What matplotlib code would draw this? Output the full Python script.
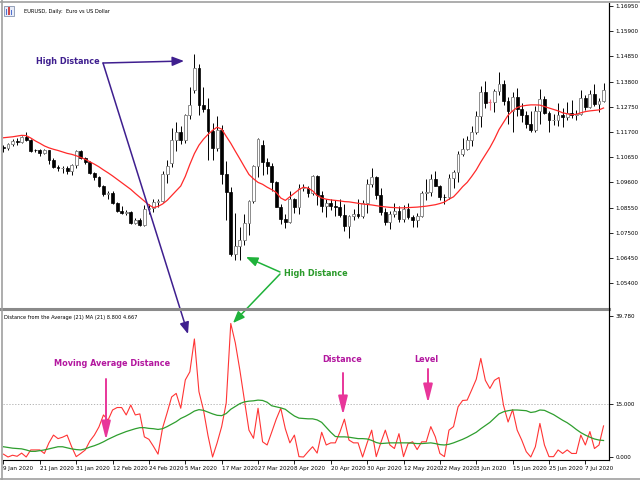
import matplotlib
matplotlib.use("Agg")
import matplotlib.pyplot as plt
from matplotlib import font_manager
from matplotlib.patches import Rectangle, FancyArrowPatch
from matplotlib.lines import Line2D
import numpy as np

# time axis labels, one every 8 daily bars starting at the first bar
date_labels = ["9 Jan 2020", "21 Jan 2020", "31 Jan 2020", "12 Feb 2020", "24 Feb 2020",
               "5 Mar 2020", "17 Mar 2020", "27 Mar 2020", "8 Apr 2020", "20 Apr 2020",
               "30 Apr 2020", "12 May 2020", "22 May 2020", "3 Jun 2020", "15 Jun 2020",
               "25 Jun 2020", "7 Jul 2020"]
label_step = 8

# EURUSD daily candles (9 Jan 2020 .. 13 Jul 2020)
opens = [1.1106, 1.1104, 1.1121, 1.1134, 1.1127, 1.1150, 1.1137, 1.1096, 1.1093, 1.1083,
         1.1093, 1.1053, 1.1025, 1.1019, 1.1020, 1.1009, 1.1031, 1.1092, 1.1061, 1.1044,
         1.0999, 1.0981, 1.0944, 1.0911, 1.0915, 1.0873, 1.0840, 1.0832, 1.0836, 1.0792,
         1.0803, 1.0782, 1.0848, 1.0853, 1.0880, 1.0884, 1.0996, 1.1040, 1.1138, 1.1172,
         1.1136, 1.1239, 1.1345, 1.1438, 1.1284, 1.1267, 1.1175, 1.1105, 1.1180, 1.0993,
         1.0918, 1.0662, 1.0693, 1.0722, 1.0792, 1.0883, 1.1029, 1.1115, 1.1043, 1.1030,
         1.0962, 1.0857, 1.0808, 1.0795, 1.0891, 1.0856, 1.0935, 1.0937, 1.0915, 1.0985,
         1.0907, 1.0862, 1.0875, 1.0863, 1.0856, 1.0823, 1.0780, 1.0820, 1.0828, 1.0822,
         1.0875, 1.0955, 1.0982, 1.0906, 1.0838, 1.0796, 1.0830, 1.0840, 1.0807, 1.0848,
         1.0816, 1.0804, 1.0819, 1.0915, 1.0922, 1.0976, 1.0946, 1.0900, 1.0899, 1.0979,
         1.1005, 1.1077, 1.1098, 1.1135, 1.1171, 1.1235, 1.1337, 1.1293, 1.1293, 1.1342,
         1.1372, 1.1301, 1.1257, 1.1316, 1.1264, 1.1242, 1.1204, 1.1177, 1.1256, 1.1308,
         1.1250, 1.1219, 1.1221, 1.1240, 1.1233, 1.1251, 1.1240, 1.1245, 1.1310, 1.1275,
         1.1329, 1.1287, 1.1298]
highs = [1.1117, 1.1124, 1.1140, 1.1144, 1.1155, 1.1172, 1.1140, 1.1100, 1.1099, 1.1098,
         1.1097, 1.1063, 1.1033, 1.1030, 1.1030, 1.1035, 1.1096, 1.1096, 1.1065, 1.1050,
         1.1003, 1.0986, 1.0951, 1.0925, 1.0925, 1.0880, 1.0862, 1.0845, 1.0841, 1.0813,
         1.0810, 1.0864, 1.0870, 1.0891, 1.0892, 1.1006, 1.1053, 1.1185, 1.1213, 1.1193,
         1.1245, 1.1356, 1.1495, 1.1454, 1.1357, 1.1310, 1.1206, 1.1237, 1.1198, 1.1050,
         1.0940, 1.0831, 1.0775, 1.0829, 1.0888, 1.1034, 1.1147, 1.1137, 1.1060, 1.1040,
         1.0967, 1.0870, 1.0830, 1.0925, 1.0893, 1.0952, 1.0952, 1.0947, 1.0990, 1.0990,
         1.0924, 1.0890, 1.0890, 1.0887, 1.0889, 1.0870, 1.0826, 1.0849, 1.0890, 1.0885,
         1.0973, 1.1019, 1.0985, 1.0935, 1.0852, 1.0840, 1.0876, 1.0860, 1.0867, 1.0875,
         1.0823, 1.0831, 1.0926, 1.0976, 1.0996, 1.1008, 1.0950, 1.0910, 1.0996, 1.1010,
         1.1090, 1.1146, 1.1155, 1.1197, 1.1257, 1.1362, 1.1384, 1.1308, 1.1350, 1.1422,
         1.1387, 1.1317, 1.1336, 1.1353, 1.1290, 1.1256, 1.1256, 1.1277, 1.1349, 1.1321,
         1.1256, 1.1247, 1.1290, 1.1268, 1.1293, 1.1303, 1.1261, 1.1346, 1.1323, 1.1344,
         1.1371, 1.1310, 1.1375]
lows = [1.1085, 1.1094, 1.1110, 1.1117, 1.1124, 1.1131, 1.1087, 1.1087, 1.1071, 1.1077,
        1.1036, 1.1019, 1.1008, 1.0998, 1.0993, 1.0992, 1.1022, 1.1057, 1.1038, 1.0993,
        1.0969, 1.0940, 1.0904, 1.0891, 1.0869, 1.0838, 1.0829, 1.0826, 1.0786, 1.0786,
        1.0778, 1.0779, 1.0829, 1.0837, 1.0857, 1.0878, 1.0958, 1.1024, 1.1092, 1.1120,
        1.1125, 1.1223, 1.1333, 1.1241, 1.1252, 1.1055, 1.1054, 1.1092, 1.0953, 1.0803,
        1.0654, 1.0636, 1.0636, 1.0700, 1.0740, 1.0873, 1.0983, 1.0992, 1.0995, 1.0925,
        1.0856, 1.0788, 1.0768, 1.0790, 1.0832, 1.0830, 1.0925, 1.0898, 1.0906, 1.0865,
        1.0838, 1.0814, 1.0845, 1.0818, 1.0815, 1.0757, 1.0727, 1.0803, 1.0812, 1.0812,
        1.0834, 1.0939, 1.0890, 1.0826, 1.0783, 1.0767, 1.0815, 1.0796, 1.0793, 1.0808,
        1.0775, 1.0774, 1.0815, 1.0886, 1.0903, 1.0945, 1.0886, 1.0872, 1.0890, 1.0935,
        1.0960, 1.1068, 1.1093, 1.1110, 1.1162, 1.1192, 1.1270, 1.1260, 1.1253, 1.1325,
        1.1284, 1.1202, 1.1168, 1.1236, 1.1211, 1.1185, 1.1168, 1.1172, 1.1202, 1.1243,
        1.1168, 1.1198, 1.1196, 1.1191, 1.1219, 1.1228, 1.1222, 1.1240, 1.1263, 1.1269,
        1.1278, 1.1254, 1.1293]
closes = [1.1104, 1.1121, 1.1134, 1.1127, 1.1150, 1.1137, 1.1092, 1.1093, 1.1083, 1.1093,
          1.1053, 1.1025, 1.1019, 1.1020, 1.1009, 1.1031, 1.1092, 1.1061, 1.1044, 1.0999,
          1.0981, 1.0944, 1.0911, 1.0915, 1.0873, 1.0840, 1.0832, 1.0836, 1.0792, 1.0803,
          1.0782, 1.0848, 1.0853, 1.0880, 1.0884, 1.0996, 1.1027, 1.1138, 1.1172, 1.1136,
          1.1239, 1.1284, 1.1438, 1.1284, 1.1267, 1.1175, 1.1105, 1.1180, 1.0993, 1.0918,
          1.0662, 1.0693, 1.0722, 1.0792, 1.0883, 1.1029, 1.1141, 1.1043, 1.1030, 1.0962,
          1.0857, 1.0808, 1.0795, 1.0891, 1.0856, 1.0935, 1.0937, 1.0915, 1.0985, 1.0907,
          1.0862, 1.0875, 1.0863, 1.0856, 1.0823, 1.0780, 1.0820, 1.0828, 1.0822, 1.0875,
          1.0955, 1.0982, 1.0906, 1.0838, 1.0796, 1.0830, 1.0840, 1.0807, 1.0848, 1.0816,
          1.0804, 1.0819, 1.0915, 1.0922, 1.0976, 1.0946, 1.0900, 1.0899, 1.0979, 1.1005,
          1.1077, 1.1098, 1.1135, 1.1171, 1.1235, 1.1337, 1.1292, 1.1293, 1.1342, 1.1372,
          1.1301, 1.1257, 1.1316, 1.1264, 1.1242, 1.1204, 1.1177, 1.1256, 1.1308, 1.1250,
          1.1219, 1.1221, 1.1240, 1.1233, 1.1251, 1.1240, 1.1245, 1.1310, 1.1275, 1.1329,
          1.1287, 1.1298, 1.1343]

# MA(21) drawn over the price
ma_price = [1.1146, 1.1148, 1.1150, 1.1153, 1.1156, 1.1155, 1.1145, 1.1133, 1.1123, 1.1112,
            1.1104, 1.1098, 1.1093, 1.1087, 1.1081, 1.1077, 1.1071, 1.1064, 1.1056, 1.1046,
            1.1036, 1.1025, 1.1012, 1.1000, 1.0987, 1.0973, 1.0959, 1.0945, 1.0931, 1.0914,
            1.0898, 1.0882, 1.0866, 1.0855, 1.0860, 1.0870, 1.0885, 1.0905, 1.0925, 1.0945,
            1.0985, 1.1035, 1.1080, 1.1115, 1.1140, 1.1160, 1.1177, 1.1190, 1.1182, 1.1152,
            1.1123, 1.1090, 1.1058, 1.1025, 1.0993, 1.0975, 1.0960, 1.0952, 1.0940, 1.0930,
            1.0918, 1.0895, 1.0885, 1.0900, 1.0915, 1.0930, 1.0940, 1.0936, 1.0925, 1.0905,
            1.0895, 1.0890, 1.0887, 1.0885, 1.0883, 1.0880, 1.0879, 1.0876, 1.0873, 1.0870,
            1.0868, 1.0866, 1.0863, 1.0860, 1.0858, 1.0856, 1.0855, 1.0854, 1.0854, 1.0855,
            1.0856, 1.0857, 1.0859, 1.0861, 1.0864, 1.0867, 1.0872, 1.0878, 1.0890, 1.0900,
            1.0920, 1.0942, 1.0960, 1.0985, 1.1012, 1.1045, 1.1075, 1.1105, 1.1140, 1.1180,
            1.1210, 1.1240, 1.1258, 1.1272, 1.1278, 1.1281, 1.1283, 1.1283, 1.1282, 1.1276,
            1.1270, 1.1264, 1.1258, 1.1250, 1.1246, 1.1242, 1.1244, 1.1250, 1.1255, 1.1258,
            1.1260, 1.1262, 1.1270]

# lower window: distance from the average and its MA(21)
distance = [0.8, 0.0, 0.5, 0.2, 1.1, 0.0, 2.0, 2.0, 2.0, 1.0,
            4.0, 6.2, 5.2, 5.6, 6.2, 2.9, 0.1, 1.0, 2.0, 4.5,
            6.2, 8.5, 11.9, 10.4, 13.3, 14.0, 14.0, 11.9, 14.7, 11.9,
            12.2, 5.7, 5.0, 3.0, 0.8, 8.2, 12.5, 17.0, 18.0, 13.8,
            21.8, 24.1, 33.4, 18.5, 13.3, 6.0, 0.0, 4.0, 8.6, 15.3,
            37.8, 32.3, 24.6, 16.0, 7.6, 5.3, 13.8, 4.3, 3.4, 7.0,
            10.7, 13.8, 8.0, 4.0, 6.2, 0.1, 0.0, 1.5, 2.9, 1.1,
            7.0, 3.4, 4.0, 4.0, 7.0, 10.7, 4.8, 4.0, 4.0, 0.0,
            4.0, 7.6, 0.1, 4.0, 7.6, 3.4, 2.4, 6.6, 0.1, 3.8,
            4.3, 2.1, 4.3, 4.3, 8.6, 5.7, 1.0, 0.1, 7.6, 8.6,
            14.2, 16.0, 16.1, 19.0, 22.0, 27.9, 21.7, 19.4, 21.7, 22.5,
            14.6, 9.9, 13.4, 7.6, 4.8, 1.5, 0.0, 2.9, 9.5, 3.4,
            0.1, 0.1, 2.0, 1.0, 2.0, 1.0, 1.0, 6.2, 3.4, 7.2,
            2.4, 3.4, 8.8]
distance_ma = [2.9, 2.7, 2.5, 2.4, 2.3, 2.0, 1.6, 1.6, 1.8, 2.0,
               2.3, 2.6, 2.9, 2.9, 2.6, 2.3, 2.1, 2.0, 2.3, 2.8,
               3.2, 3.7, 4.3, 5.0, 5.6, 6.2, 6.7, 7.2, 7.6, 8.0,
               8.3, 8.3, 8.1, 8.0, 7.8, 8.0, 8.6, 9.3, 10.0, 10.9,
               11.5, 12.2, 13.0, 13.4, 13.2, 12.7, 12.2, 11.8, 11.7, 12.3,
               13.5, 14.3, 15.1, 15.6, 15.8, 15.9, 16.1, 16.0, 15.5, 14.5,
               14.2, 13.9, 13.5, 12.5, 11.6, 11.0, 10.9, 10.8, 10.8, 10.5,
               9.8, 8.4, 7.0, 5.8, 5.7, 5.7, 5.6, 5.4, 5.2, 5.2,
               5.1, 4.7, 4.1, 3.8, 3.9, 4.0, 4.0, 4.0, 4.0, 4.0,
               3.9, 3.8, 3.8, 3.9, 4.0, 3.8, 3.5, 3.4, 3.6, 4.0,
               4.5, 5.0, 5.6, 6.3, 7.0, 8.0, 8.9, 9.8, 11.0, 12.2,
               12.8, 13.1, 13.3, 13.3, 13.2, 13.1, 12.6, 12.8, 13.3, 13.2,
               12.6, 12.0, 11.2, 10.4, 9.7, 8.8, 7.8, 6.9, 6.2, 5.6,
               5.1, 4.8, 4.667]

price_ticks = [1.16950, 1.15900, 1.14850, 1.13800, 1.12750, 1.11700,
               1.10650, 1.09600, 1.08550, 1.07500, 1.06450, 1.05400]
dist_ticks = [0.0, 15.0, 39.78]
level = 15.0

W, H = 640, 480


# MT4 uses a narrow little font; take a condensed face if one is installed
def pick_font():
    fonts = font_manager.fontManager.ttflist
    if any(f.name == 'Liberation Sans Narrow' for f in fonts):
        return 'Liberation Sans Narrow', 'normal', 1.05
    if any(f.name == 'DejaVu Sans' and f.stretch == 'condensed' for f in fonts):
        return 'DejaVu Sans', 'condensed', 1.0
    return 'DejaVu Sans', 'normal', 0.84


fam, stretch, k = pick_font()
plt.rcParams['font.family'] = [fam, 'DejaVu Sans']
plt.rcParams['font.stretch'] = stretch
axis_size = 4.5 * k
title_size = 4.1 * k


def box(x0, y0, x1, y1):
    # pixel box (top-left origin) -> figure fraction rect
    return [x0 / W, 1 - y1 / H, (x1 - x0) / W, (y1 - y0) / H]


def fp(x, y):
    return (x / W, 1 - y / H)


fig = plt.figure(figsize=(6.4, 4.8), dpi=100)
fig.patch.set_facecolor('white')

ax1 = fig.add_axes(box(3, 3, 609, 307))
ax2 = fig.add_axes(box(3, 310, 609, 460))

idx = np.arange(len(closes))
o = np.array(opens)
h = np.array(highs)
l = np.array(lows)
c = np.array(closes)
up = c > o
down = c < o
flat = c == o

# candles
ax1.vlines(idx[~flat], l[~flat], h[~flat], color='black', lw=0.7, zorder=2)
ax1.bar(idx[up], (c - o)[up], bottom=o[up], width=0.62, facecolor='white',
        edgecolor='#8c8c8c', lw=0.7, zorder=3)
ax1.bar(idx[down], (c - o)[down], bottom=o[down], width=0.62, facecolor='black',
        edgecolor='black', lw=0.5, zorder=3)
ax1.vlines(idx[flat], l[flat], h[flat], color='#f07080', lw=0.8, zorder=3)
ax1.hlines(c[flat], idx[flat] - 0.35, idx[flat] + 0.35, color='#f07080', lw=0.8, zorder=3)
ax1.plot(idx, ma_price, color='#ff2a2a', lw=0.9, zorder=4)

ax1.set_xlim(-0.1, len(closes) + 0.2)
ax1.set_ylim(1.04408, 1.17075)
ax1.set_xticks([])
ax1.yaxis.tick_right()
ax1.set_yticks(price_ticks)
ax1.set_yticklabels(['%.5f' % p for p in price_ticks])

# lower window
ax2.plot(idx, distance, color='#ff3434', lw=0.8, zorder=3)
ax2.plot(idx, distance_ma, color='#2e9e2e', lw=0.9, zorder=4)
ax2.axhline(level, color='#a8a8a8', lw=0.6, ls=(0, (1.5, 2)), zorder=1)
ax2.set_xlim(-0.1, len(closes) + 0.2)
ax2.set_ylim(-0.85, 41.6)
ax2.yaxis.tick_right()
ax2.set_yticks(dist_ticks)
ax2.set_yticklabels(['%.3f' % v for v in dist_ticks])
ax2.set_xticks(np.arange(len(date_labels)) * label_step)
ax2.set_xticklabels(date_labels, ha='left')

for ax in (ax1, ax2):
    for s in ('left', 'top', 'bottom'):
        ax.spines[s].set_visible(False)
    ax.spines['right'].set_color('black')
    ax.spines['right'].set_linewidth(0.8)
    ax.tick_params(axis='y', length=3, width=0.6, pad=1.5, labelsize=axis_size, direction='out')
ax2.spines['bottom'].set_visible(True)
ax2.spines['bottom'].set_linewidth(0.8)
ax2.tick_params(axis='x', length=3, width=0.6, pad=1.5, labelsize=axis_size, direction='out')

# window frame and separator
gray = '#a0a0a0'
fig.add_artist(Line2D([0, 609 / W], [1 - 308.5 / H] * 2, color='#8a8a8a', lw=2.2))
fig.add_artist(Line2D([0, 1], [1 - 1.5 / H] * 2, color=gray, lw=1.2))
fig.add_artist(Line2D([1.5 / W] * 2, [0, 1], color=gray, lw=1.2))
fig.add_artist(Line2D([0, 1], [1 - 478.5 / H] * 2, color=gray, lw=1.2))
fig.add_artist(Line2D([609.3 / W] * 2, [1 - 460 / H, 1 - 3 / H], color='black', lw=0.8))

# chart icon and titles
fig.add_artist(Rectangle(fp(4, 16), 10 / W, 10 / H, facecolor='#e8ecf8', edgecolor='#7080a0', lw=0.5))
for bx, bh, col in ((5.5, 6, '#5070d0'), (8, 8, '#d04848'), (10.5, 5, '#5070d0')):
    fig.add_artist(Rectangle(fp(bx, 15), 1.8 / W, bh / H, facecolor=col, edgecolor='none'))
fig.text(*fp(24, 11), 'EURUSD, Daily:  Euro vs US Dollar', fontsize=title_size,
         va='center', ha='left')
fig.text(*fp(4, 317), 'Distance from the Average (21) MA (21) 8.800 4.667', fontsize=title_size,
         va='center', ha='left')

# annotations
purple = '#3f1f8f'
green_txt = '#2a9a2a'
green_arr = '#1fb23a'
magenta_txt = '#b3179f'
pink = '#e8369a'


def arrow(p0, p1, color, lw, hl, hw, ms):
    fig.add_artist(FancyArrowPatch(fp(*p0), fp(*p1), transform=fig.transFigure,
                                   arrowstyle='-|>,head_length=%s,head_width=%s' % (hl, hw),
                                   mutation_scale=ms, color=color, lw=lw,
                                   shrinkA=0, shrinkB=0))


ann_font = dict(fontweight='bold', fontsize=6.5 * k, va='center', ha='left')
fig.text(*fp(36, 62), 'High Distance', color=purple, **ann_font)
arrow((103, 63), (184, 61), purple, 1.1, 1.0, 0.4, 7)
arrow((103, 63), (188, 334), purple, 1.1, 1.0, 0.4, 7)

fig.text(*fp(284, 273), 'High Distance', color=green_txt, **ann_font)
arrow((280, 272), (246, 257), green_arr, 1.1, 1.0, 0.4, 7)
arrow((280, 274), (233, 323), green_arr, 1.1, 1.0, 0.4, 7)

fig.text(*fp(54, 364), 'Moving Average Distance', color=magenta_txt, **ann_font)
arrow((106, 379), (106, 440), pink, 1.4, 1.4, 0.35, 8)
fig.text(*fp(322, 359), 'Distance', color=magenta_txt, **ann_font)
arrow((343, 373), (343, 415), pink, 1.4, 1.4, 0.35, 8)
fig.text(*fp(414, 359), 'Level', color=magenta_txt, **ann_font)
arrow((428, 369), (428, 403), pink, 1.4, 1.4, 0.35, 8)

fig.savefig('out.png', dpi=100, facecolor='white')
